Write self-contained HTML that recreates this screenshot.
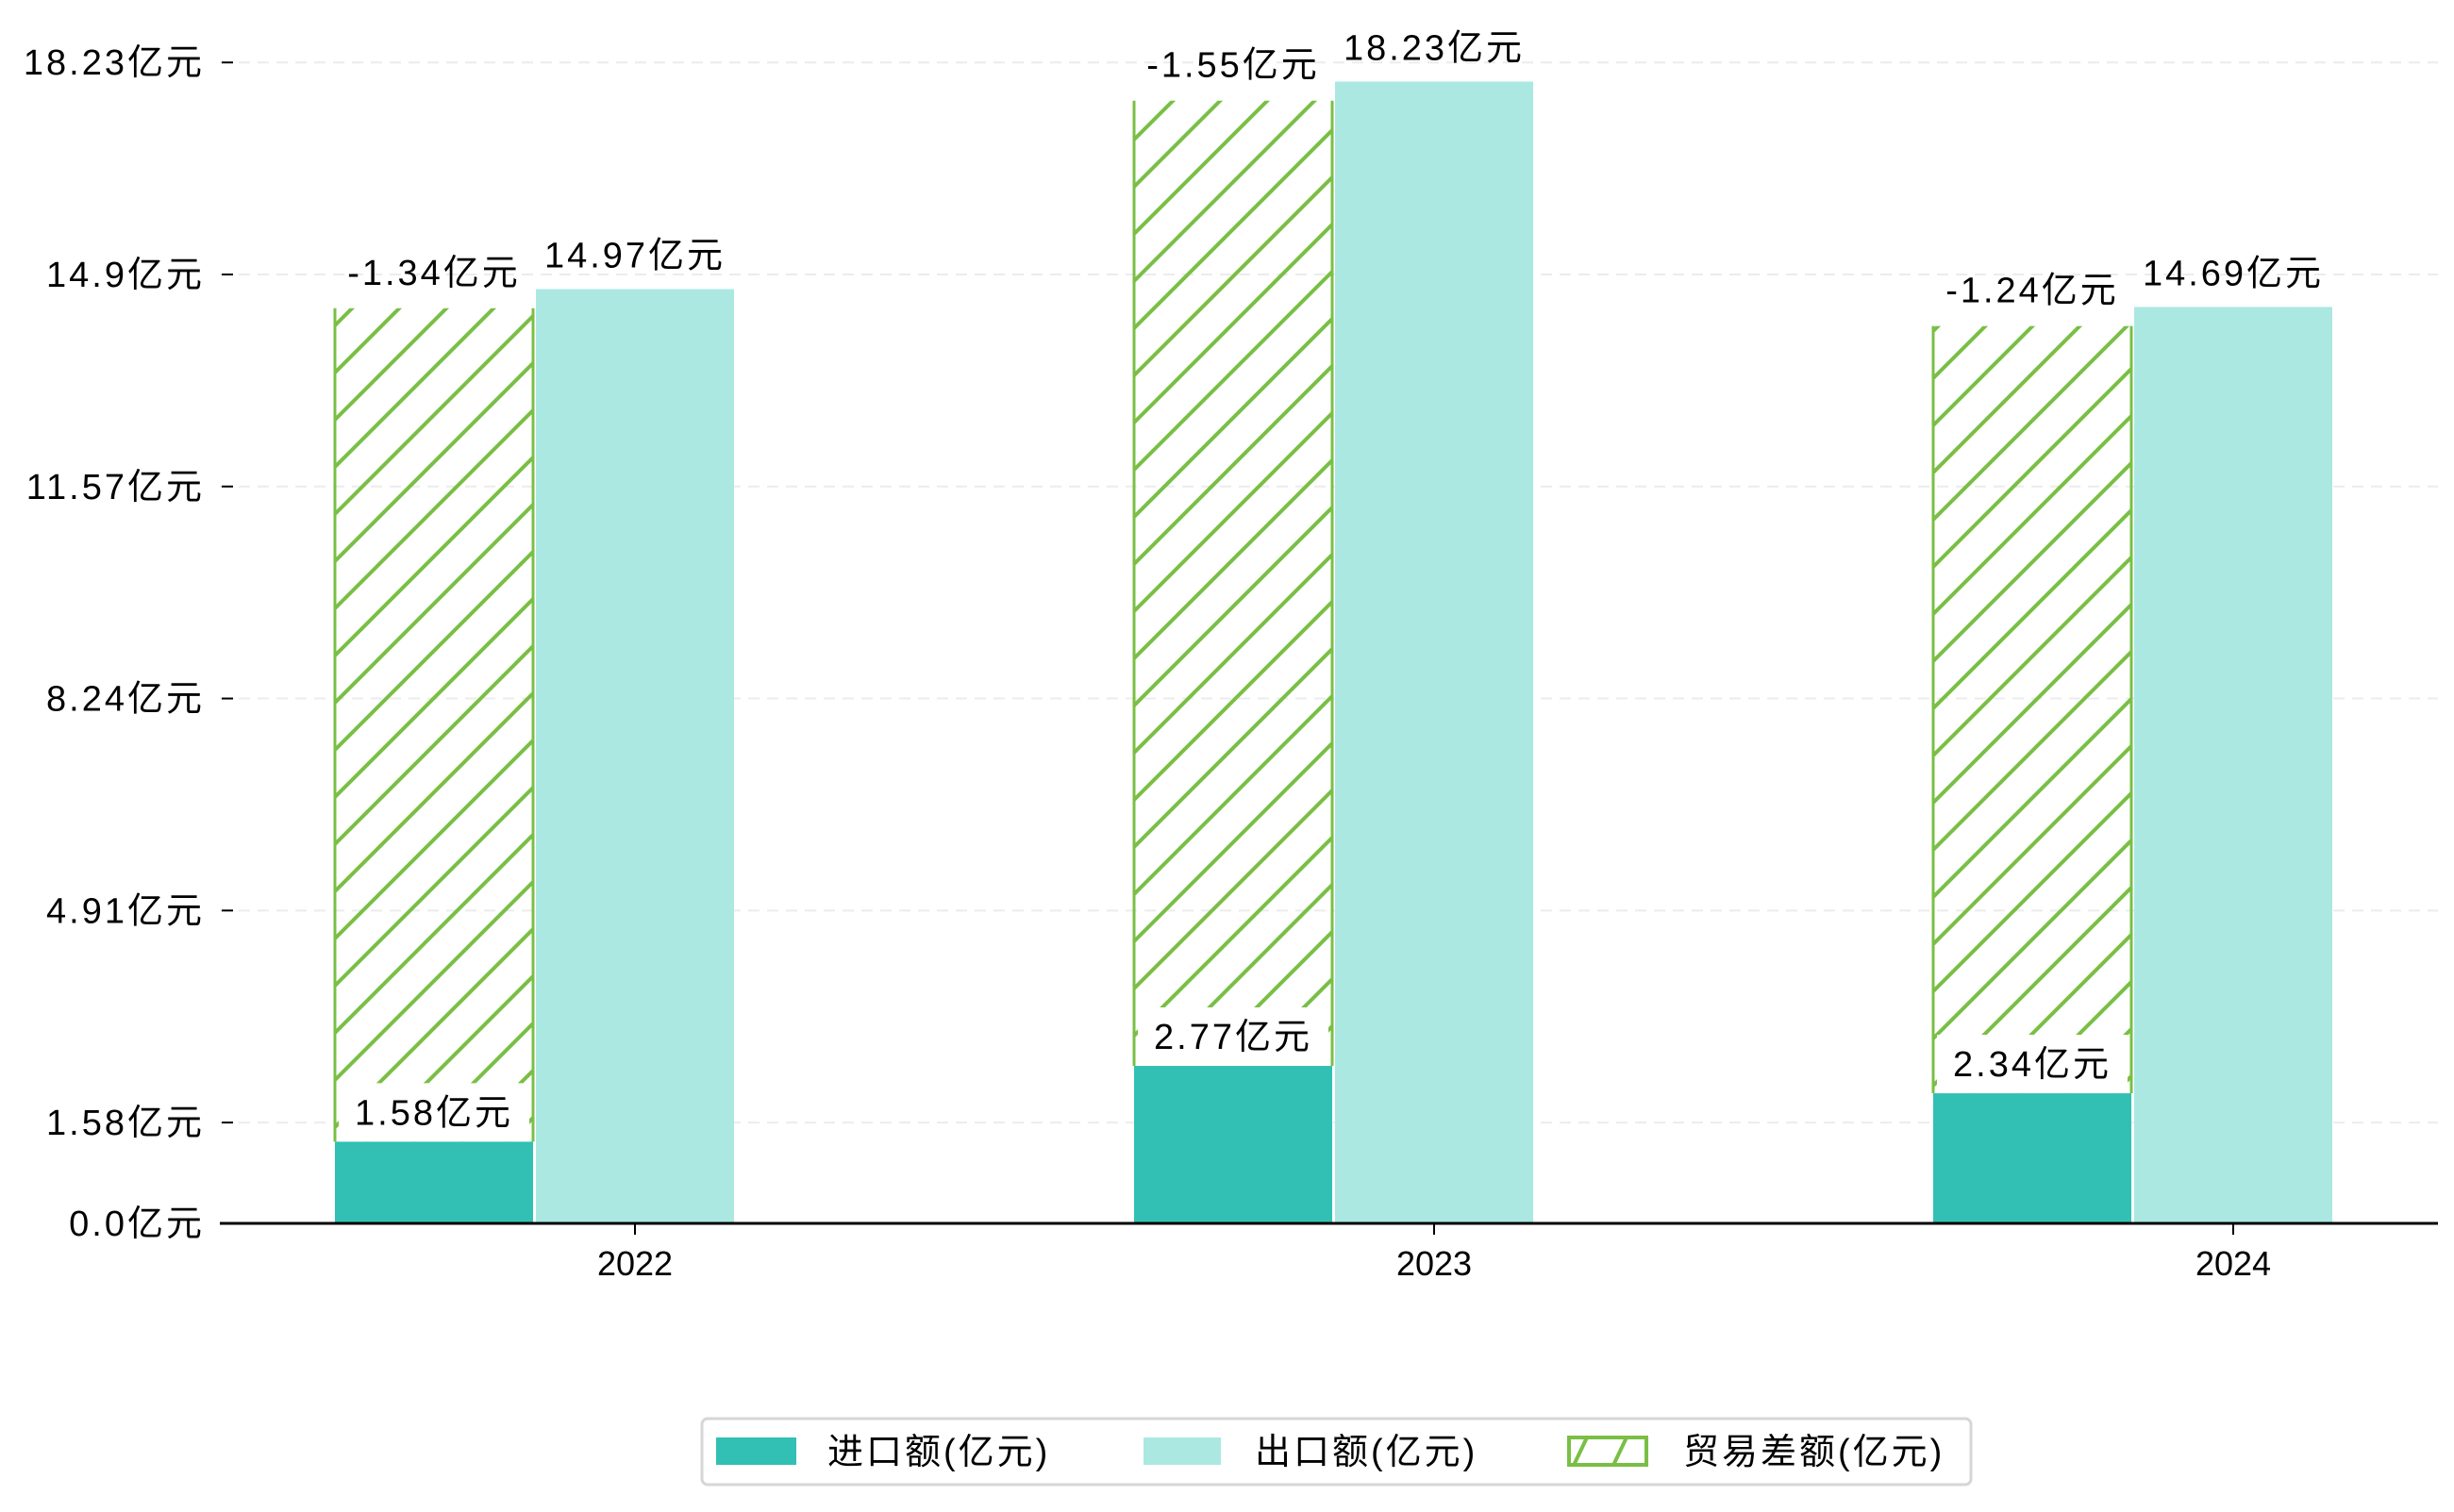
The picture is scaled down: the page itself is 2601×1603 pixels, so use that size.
<!DOCTYPE html>
<html><head><meta charset="utf-8">
<style>
html,body{margin:0;padding:0;background:#fff;}
svg text{font-family:"Liberation Sans","Noto Sans CJK SC",sans-serif;}
.ls{letter-spacing:3px;}
</style></head>
<body>
<svg id="chart" width="2601" height="1598" viewBox="0 0 2601 1598" xmlns="http://www.w3.org/2000/svg">
<defs>
<pattern id="hatch" patternUnits="userSpaceOnUse" width="50" height="50">
<path d="M-5,5 L5,-5 M0,50 L50,0 M45,55 L55,45" stroke="#79bf45" stroke-width="4"/>
</pattern>
<pattern id="hatchLeg" patternUnits="userSpaceOnUse" width="42" height="42" x="1662" y="1524">
<path d="M0,42 L20,0 M42,42 L62,0" stroke="#79bf45" stroke-width="4"/>
</pattern>
</defs>
<g id="grid"></g>
<g id="bars"></g>
<g id="axes"></g>
<g id="labels"></g>
<g id="legend">
<rect x="744" y="1504" width="1345" height="70" rx="6" fill="#fff" stroke="#d6d6d6" stroke-width="3"/>
<g>
<rect x="759" y="1524" width="85" height="29" fill="#31c0b3"/>
<text class="ls" x="877" y="1552" font-size="38" fill="#000">进口额(亿元)</text>
</g>
<g>
<rect x="1212" y="1524" width="82" height="29" fill="#abe8e2"/>
<text class="ls" x="1330" y="1552" font-size="38" fill="#000">出口额(亿元)</text>
</g>
<g>
<rect x="1663" y="1524" width="82" height="29" fill="url(#hatchLeg)" stroke="#79bf45" stroke-width="4"/>
<text class="ls" x="1784" y="1552" font-size="38" fill="#000">贸易差额(亿元)</text>
</g>
</g>
</svg>
<script>
const categories = ["2022", "2023", "2024"];
const imports = [1.58, 2.77, 2.34];
const exports = [14.97, 18.23, 14.69];
const balances = [-1.34, -1.55, -1.24];
const tickValues = [0.0, 1.58, 4.91, 8.24, 11.57, 14.9, 18.23];
const tickLabels = ["0.0亿元", "1.58亿元", "4.91亿元", "8.24亿元", "11.57亿元", "14.9亿元", "18.23亿元"];

const NS = "http://www.w3.org/2000/svg";
const Y0 = 1317, K = 67.5, BASE = 1297, AXL = 233, AXR = 2584;
const TICK_SHIFT = 0.3, HATCH_GAP = 0.3;
function y(v){ return Y0 - v * K; }
function xc(i){ return 673 + i * 847; }
function mk(tag, attrs, parent){ const e = document.createElementNS(NS, tag); for (const k in attrs) e.setAttribute(k, attrs[k]); parent.appendChild(e); return e; }

const grid = document.getElementById('grid');
const axes = document.getElementById('axes');
const bars = document.getElementById('bars');
const labels = document.getElementById('labels');

tickValues.forEach((v, i) => {
  const ty = y(v + TICK_SHIFT);
  if (i > 0) {
    const g = mk('line', {x1: AXL, x2: AXR, y1: ty, y2: ty, stroke: '#ececec', 'stroke-width': 2, 'stroke-dasharray': '12,8'}, grid);
    
    
  }
  const tm = mk('line', {x1: 235, x2: 247, y1: ty, y2: ty, stroke: '#000', 'stroke-width': 2}, axes);
  
  
  const t = mk('text', {x: 217, y: ty + 13, 'font-size': 38, 'text-anchor': 'end', fill: '#000', class: 'ls'}, axes);
  t.textContent = tickLabels[i];
  
  
});

const W = 210;
categories.forEach((c, i) => {
  const cx = xc(i);
  const ix = cx - 318, ex = cx - 105;
  const top = Math.min(BASE, y(imports[i]));
  const ib = mk('rect', {x: ix, y: top, width: W, height: BASE - top, fill: '#31c0b3'}, bars);
  
  
  const et = y(exports[i]);
  const eb = mk('rect', {x: ex, y: et, width: W, height: BASE - et, fill: '#abe8e2'}, bars);
  
  
  const ht = y(exports[i] - HATCH_GAP);
  const hb = mk('rect', {x: ix, y: ht, width: W, height: top - ht, fill: 'url(#hatch)', stroke: '#79bf45', 'stroke-width': 3}, bars);
  
  
  hb.setAttribute('stroke-dasharray', '0,' + W + ',' + (top - ht) + ',' + W + ',' + (top - ht));
  const box = mk('rect', {x: ix + 4, y: top - 62, width: W - 8, height: 62, fill: '#fff'}, labels);
  
  
  const il = mk('text', {x: ix + W/2, y: top - 18, 'font-size': 38, 'text-anchor': 'middle', fill: '#000', class: 'ls'}, labels);
  il.textContent = imports[i] + '亿元';
  
  
  const el = mk('text', {x: ex + W/2, y: et - 23, 'font-size': 38, 'text-anchor': 'middle', fill: '#000', class: 'ls'}, labels);
  el.textContent = exports[i] + '亿元';
  
  
  const bl = mk('text', {x: ix + W/2, y: ht - 25, 'font-size': 38, 'text-anchor': 'middle', fill: '#000', class: 'ls'}, labels);
  bl.textContent = balances[i] + '亿元';
  
  
  const xt = mk('line', {x1: cx, x2: cx, y1: BASE, y2: BASE + 12, stroke: '#000', 'stroke-width': 2}, axes);
  
  
  const xl = mk('text', {x: cx, y: BASE + 55, 'font-size': 36, 'text-anchor': 'middle', fill: '#000'}, axes);
  xl.textContent = c;
  
  
});
const ax = mk('line', {x1: AXL, x2: AXR, y1: BASE, y2: BASE, stroke: '#000', 'stroke-width': 3}, axes);


</script>
</body></html>
